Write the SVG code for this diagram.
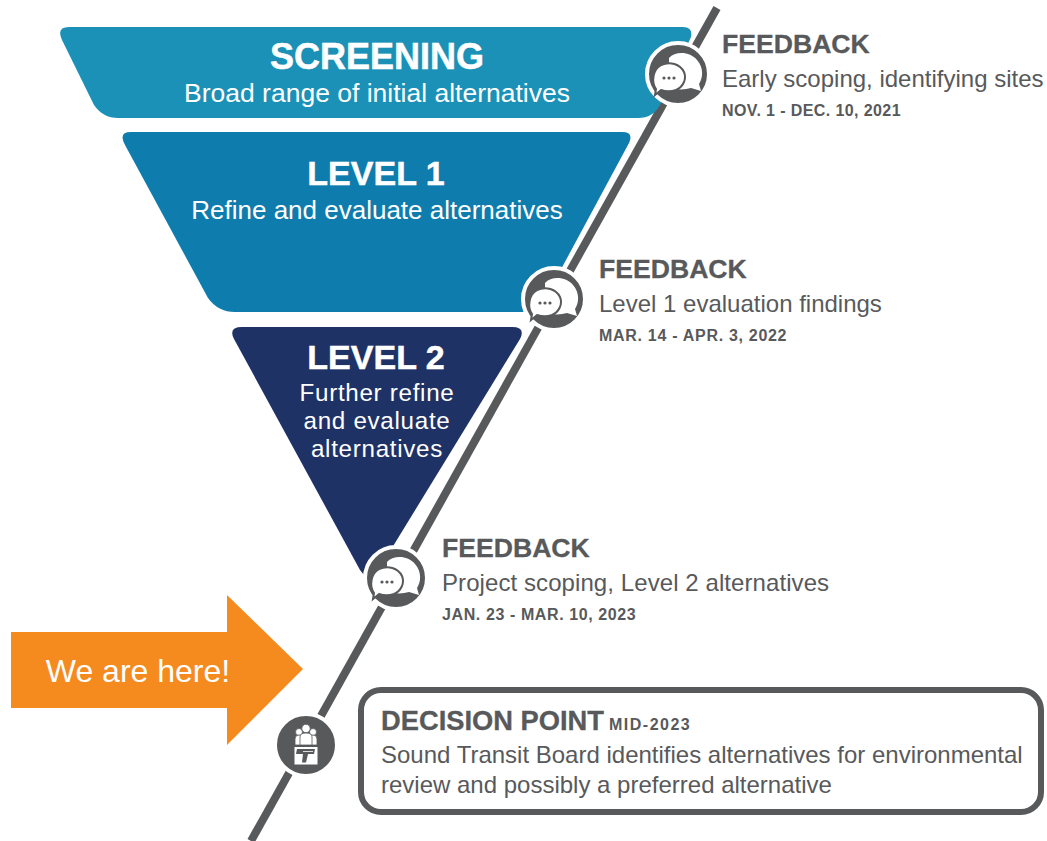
<svg xmlns="http://www.w3.org/2000/svg" xmlns:xlink="http://www.w3.org/1999/xlink" width="1047" height="841" viewBox="0 0 1047 841">
<defs>
<style>
text{font-family:"Liberation Sans",Arial,sans-serif}
.t{fill:#fff;text-anchor:middle;font-weight:700;font-size:34px;stroke:#fff;stroke-width:.5px}
.s{fill:#fff;text-anchor:middle;font-size:26px}
.h{fill:#58595b;font-weight:700;font-size:26.600px;stroke:#58595b;stroke-width:.3px}
.d{fill:#58595b;font-size:24px}
.m{fill:#58595b;font-weight:700;font-size:16px;letter-spacing:.4px}
</style>
<g id="chat">
<circle r="31" fill="#58595b" stroke="#fff" stroke-width="4"/>
<path d="M-9-16C-3-23 12-23 19-14C26-6 25 4 21 10L23 17L13 14C6 16-2 16-9 13Z" fill="#fff"/>
<path d="M-22 15C-27 8-25-5-17-9C-8-13 2-10 6-2C9 5 5 13-2 16C-8 18-14 17-17 16L-23 21Z" fill="#fff" stroke="#58595b" stroke-width="2"/>
<g fill="#58595b"><circle cx="-14" cy="4" r="1.600"/><circle cx="-9" cy="4" r="1.600"/><circle cx="-4" cy="4" r="1.600"/></g>
</g>
</defs>
<rect width="1047" height="841" fill="#fff"/>
<g id="connectors">
<path d="M717 8L251 841" fill="none" stroke="#58595b" stroke-width="8"/>
</g>
<g id="screening">
<path d="M69 27H683Q693 27 691 37L660 105Q653 118 638 118H118Q103 118 94 105L62 40Q56 27 69 27Z" fill="#1b91b7"/>
<text class="t" x="377" y="69" style="font-size:36px">SCREENING</text>
<text class="s" x="377" y="102" style="font-size:26.500px">Broad range of initial alternatives</text>
</g>
<g id="level1">
<path d="M131 132H622Q634 132 629 143L545 299Q538 312 522 312H235Q218 312 208 298L125 145Q118 132 131 132Z" fill="#0f7cae"/>
<text class="t" x="376" y="185">LEVEL 1</text>
<text class="s" x="377" y="219">Refine and evaluate alternatives</text>
</g>
<g id="level2">
<path d="M242 327H512Q526 327 520 339L376 574Q368 582 360 570L234 339Q228 327 242 327Z" fill="#1f3266"/>
<text class="t" x="376" y="369">LEVEL 2</text>
<text class="s" x="377" y="401" style="font-size:24.200px;letter-spacing:.7px">Further refine</text>
<text class="s" x="377" y="429" style="font-size:24.200px;letter-spacing:.7px">and evaluate</text>
<text class="s" x="377" y="457" style="font-size:24.200px;letter-spacing:.7px">alternatives</text>
</g>
<g id="feedback1">
<use xlink:href="#chat" href="#chat" x="678" y="74"/>
<text class="h" x="722" y="53">FEEDBACK</text>
<text class="d" x="722" y="87">Early scoping, identifying sites</text>
<text class="m" x="722" y="116">NOV. 1 - DEC. 10, 2021</text>
</g>
<g id="feedback2">
<use xlink:href="#chat" href="#chat" x="554" y="299"/>
<text class="h" x="599" y="278">FEEDBACK</text>
<text class="d" x="599" y="312">Level 1 evaluation findings</text>
<text class="m" x="599" y="341" style="letter-spacing:.7px">MAR. 14 - APR. 3, 2022</text>
</g>
<g id="feedback3">
<use xlink:href="#chat" href="#chat" x="396" y="578"/>
<text class="h" x="442" y="557">FEEDBACK</text>
<text class="d" x="442" y="591" style="letter-spacing:.08px">Project scoping, Level 2 alternatives</text>
<text class="m" x="442" y="620" style="letter-spacing:.6px">JAN. 23 - MAR. 10, 2023</text>
</g>
<g id="here">
<path d="M11 632H227V595L303 669L227 745V708H11Z" fill="#f58b1f"/>
<text x="138" y="682" font-size="32" fill="#fff" text-anchor="middle">We are here!</text>
</g>
<g id="decision-icon">
<circle cx="306" cy="745" r="31" fill="#58595b" stroke="#fff" stroke-width="4"/>
<g fill="#fff" stroke="#58595b" stroke-width=".8">
<circle cx="299" cy="732" r="3.500"/><circle cx="313" cy="732" r="3.500"/>
<path d="M295 745V739Q295 735 299 735Q303 735 303 739V745Z"/>
<path d="M309 745V739Q309 735 313 735Q317 735 317 739V745Z"/>
<circle cx="306" cy="728.500" r="4.200"/>
<path d="M300 745V737Q300 733 306 733Q312 733 312 737V745Z"/>
</g>
<rect x="294.500" y="747" width="23" height="17.500" fill="#fff"/>
<path d="M297 749H315L314 754H308L306 762.500H302L303 754H296Z" fill="#58595b"/>
<path d="M303 751.500H313" stroke="#fff" stroke-width=".8" fill="none"/>
</g>
<g id="decision">
<rect x="361" y="690" width="680" height="122" rx="20" fill="#fff" stroke="#58595b" stroke-width="6"/>
<text x="381" y="730" fill="#58595b" stroke="#58595b" stroke-width=".3" font-weight="700" font-size="27.300">DECISION POINT</text>
<text x="609" y="730" fill="#58595b" font-weight="700" font-size="16" letter-spacing="1.500">MID-2023</text>
<text class="d" x="381" y="763">Sound Transit Board identifies alternatives for environmental</text>
<text class="d" x="381" y="793">review and possibly a preferred alternative</text>
</g>
</svg>
